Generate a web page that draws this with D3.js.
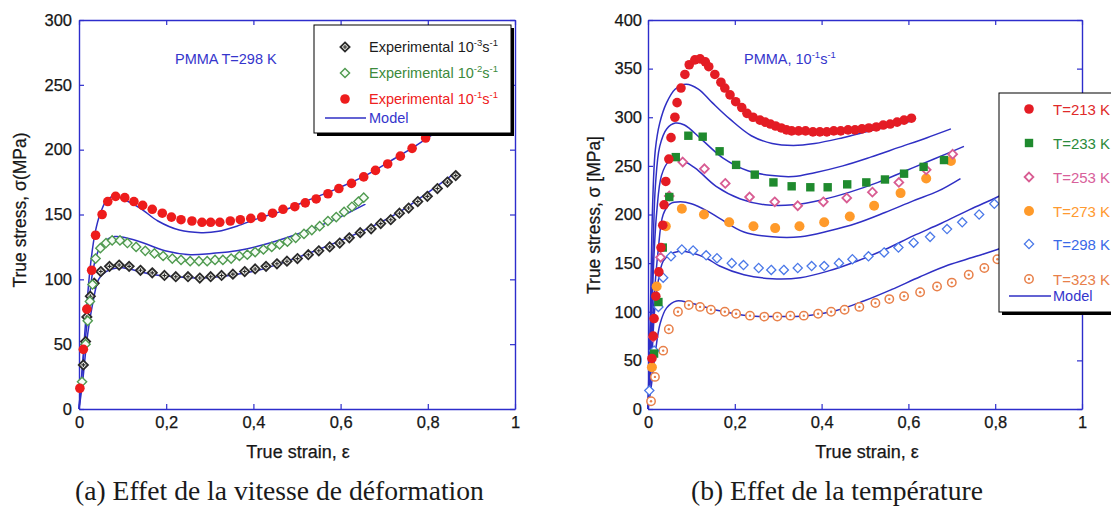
<!DOCTYPE html>
<html><head><meta charset="utf-8">
<script src="https://cdnjs.cloudflare.com/ajax/libs/d3/7.8.5/d3.min.js"></script>
<style>body{margin:0;background:#fff}svg{display:block}</style>
</head><body>
<svg id="c" width="1111" height="507"></svg>
<script>
// ---------- DATA ----------
const xTicks = [0, 0.2, 0.4, 0.6, 0.8, 1];
const yTicksA = [0, 50, 100, 150, 200, 250, 300];
const yTicksB = [0, 50, 100, 150, 200, 250, 300, 350, 400];

// (a) strain-rate effect, T = 298 K  [strain, stress MPa]
const expA_1e3 = [[0.01,34],[0.015,52],[0.018,71],[0.026,87],[0.035,97],[0.05,106],[0.07,110],[0.092,111],[0.115,110],[0.141,107],[0.168,105],[0.196,103],[0.222,102],[0.25,102],[0.277,101],[0.302,102],[0.327,103],[0.353,104],[0.38,106],[0.404,108],[0.429,110],[0.454,112],[0.477,114],[0.501,116],[0.526,119],[0.55,122],[0.575,125],[0.598,128],[0.62,132],[0.645,136],[0.67,139],[0.692,143],[0.715,146],[0.735,151],[0.756,155],[0.777,160],[0.799,164],[0.822,170],[0.845,175],[0.864,180]];
const expA_1e2 = [[0.007,21],[0.015,50],[0.02,68],[0.025,83],[0.031,96],[0.038,116],[0.049,124],[0.062,128],[0.076,130],[0.094,130],[0.111,128],[0.131,125],[0.152,122],[0.173,120],[0.193,118],[0.214,116],[0.234,115],[0.255,114],[0.275,114],[0.294,114],[0.312,115],[0.33,115],[0.349,116],[0.368,118],[0.386,119],[0.404,121],[0.423,123],[0.442,125],[0.46,127],[0.478,129],[0.497,132],[0.516,135],[0.534,138],[0.552,141],[0.571,145],[0.59,148],[0.608,152],[0.626,156],[0.641,160],[0.653,163]];
const expA_1e1 = [[0.002,16],[0.01,46],[0.018,77],[0.029,107],[0.038,134],[0.053,150],[0.066,160],[0.084,164],[0.105,163],[0.126,160],[0.146,157],[0.168,154],[0.191,151],[0.212,148],[0.234,146],[0.259,145],[0.282,144],[0.302,144],[0.323,144],[0.347,145],[0.37,146],[0.394,147],[0.419,148],[0.444,151],[0.468,154],[0.495,156],[0.519,159],[0.544,162],[0.571,166],[0.596,170],[0.625,174],[0.653,179],[0.68,184],[0.708,189],[0.737,195],[0.764,201],[0.795,209],[0.825,216],[0.855,224]];
const modA_1e3 = [[0,0],[0.008,20],[0.014,40],[0.02,58],[0.033,84],[0.045,100],[0.062,106],[0.09,109],[0.115,108],[0.164,104],[0.222,102],[0.28,101],[0.345,103],[0.411,107],[0.477,114],[0.542,122],[0.608,131],[0.674,141],[0.74,153],[0.805,168],[0.867,183]];
const modA_1e2 = [[0,0],[0.006,25],[0.012,46],[0.02,71],[0.031,105],[0.043,121],[0.058,129],[0.082,133],[0.107,132],[0.148,128],[0.197,122],[0.255,119],[0.304,120],[0.362,122],[0.427,127],[0.493,134],[0.542,140],[0.592,147],[0.657,158]];
const modA_1e1 = [[0,0],[0.008,33],[0.016,71],[0.026,110],[0.037,136],[0.049,151],[0.066,162],[0.086,164],[0.107,161],[0.14,155],[0.181,145],[0.23,138],[0.28,136],[0.32,137],[0.362,141],[0.411,147],[0.468,153],[0.526,161],[0.592,170],[0.657,180],[0.723,193],[0.772,203],[0.83,216],[0.87,226]];

// (b) temperature effect, 10^-1 s^-1
const expB_213 = [[0.009,52],[0.012,75],[0.014,93],[0.018,116],[0.025,141],[0.03,166],[0.034,189],[0.037,210],[0.041,234],[0.048,257],[0.053,279],[0.062,300],[0.067,315],[0.076,330],[0.085,344],[0.095,354],[0.108,359],[0.12,360],[0.132,357],[0.14,352],[0.154,344],[0.168,336],[0.177,330],[0.189,323],[0.202,316],[0.216,310],[0.228,304],[0.242,300],[0.258,297],[0.27,295],[0.282,293],[0.294,291],[0.307,289],[0.319,287],[0.331,286],[0.347,286],[0.363,286],[0.38,285],[0.396,285],[0.412,285],[0.428,286],[0.444,286],[0.461,287],[0.477,287],[0.493,288],[0.509,289],[0.526,290],[0.542,292],[0.558,293],[0.574,295],[0.59,297],[0.607,299]];
const expB_233 = [[0.014,57],[0.024,110],[0.034,166],[0.049,218],[0.064,259],[0.093,281],[0.126,280],[0.165,265],[0.203,251],[0.246,241],[0.289,233],[0.331,229],[0.374,228],[0.414,228],[0.459,231],[0.503,233],[0.546,236],[0.59,242],[0.635,249],[0.682,256]];
const expB_253 = [[0.012,74],[0.029,156],[0.049,219],[0.08,254],[0.13,247],[0.178,232],[0.234,218],[0.292,213],[0.345,209],[0.404,213],[0.458,217],[0.517,223],[0.578,233],[0.641,246],[0.702,262]];
const expB_273 = [[0.009,43],[0.02,126],[0.041,188],[0.078,206],[0.129,200],[0.187,192],[0.243,188],[0.293,186],[0.349,188],[0.406,192],[0.465,198],[0.521,209],[0.582,222],[0.641,237],[0.698,255]];
const expB_298 = [[0.003,19],[0.014,60],[0.024,105],[0.035,135],[0.053,157],[0.078,164],[0.104,163],[0.134,158],[0.159,155],[0.193,150],[0.22,148],[0.255,145],[0.284,143],[0.313,143],[0.345,145],[0.377,147],[0.406,147],[0.44,150],[0.471,154],[0.508,157],[0.544,161],[0.577,166],[0.612,171],[0.65,177],[0.689,185],[0.724,192],[0.763,200],[0.798,211],[0.84,220],[0.88,230]];
const expB_323 = [[0.007,8],[0.016,33],[0.035,60],[0.048,82],[0.069,100],[0.094,107],[0.12,105],[0.145,102],[0.177,100],[0.203,98],[0.235,96],[0.268,95],[0.298,95],[0.328,96],[0.359,96],[0.392,98],[0.422,100],[0.453,102],[0.487,105],[0.524,109],[0.556,113],[0.59,116],[0.627,120],[0.666,126],[0.7,130],[0.739,138],[0.775,145],[0.805,154],[0.84,162]];
const modB_213 = [[0,0],[0.005,90],[0.011,215],[0.017,267],[0.027,294],[0.043,315],[0.063,329],[0.088,334],[0.116,329],[0.148,315],[0.189,298],[0.238,281],[0.286,273],[0.335,271],[0.384,273],[0.449,279],[0.513,286],[0.57,292],[0.607,296]];
const modB_233 = [[0,0],[0.006,80],[0.012,170],[0.017,229],[0.027,270],[0.043,288],[0.063,294],[0.084,292],[0.124,277],[0.173,258],[0.23,245],[0.286,240],[0.335,239],[0.384,243],[0.449,250],[0.513,259],[0.578,269],[0.643,279],[0.698,288]];
const modB_253 = [[0,0],[0.007,70],[0.013,150],[0.02,202],[0.031,240],[0.047,254],[0.075,256],[0.108,248],[0.157,229],[0.213,216],[0.27,210],[0.335,210],[0.4,215],[0.465,223],[0.53,233],[0.594,245],[0.659,257],[0.728,270]];
const modB_273 = [[0,0],[0.008,60],[0.015,120],[0.023,161],[0.035,200],[0.051,211],[0.075,213],[0.1,211],[0.135,204],[0.165,196],[0.221,182],[0.286,177],[0.351,177],[0.416,183],[0.481,191],[0.546,202],[0.611,214],[0.668,224],[0.72,237]];
const modB_298 = [[0,0],[0.008,45],[0.015,100],[0.023,130],[0.035,152],[0.051,159],[0.07,162],[0.097,161],[0.135,155],[0.165,147],[0.221,138],[0.286,134],[0.351,135],[0.416,142],[0.481,152],[0.546,164],[0.611,178],[0.676,191],[0.741,205],[0.805,218],[0.85,228]];
const modB_323 = [[0,0],[0.008,25],[0.016,55],[0.028,88],[0.043,104],[0.066,111],[0.097,109],[0.165,101],[0.23,96],[0.302,95],[0.367,96],[0.432,101],[0.497,111],[0.562,123],[0.627,136],[0.692,148],[0.749,156],[0.805,164],[0.85,172]];

const labelsB = ["T=213 K","T=233 K","T=253 K","T=273 K","T=298 K","T=323 K"];

// ---------- DRAW ----------
const svg = d3.select("#c");
svg.append("rect").attr("width",1111).attr("height",507).attr("fill","#fff");
const AX = "#2d2dcc", MODEL = "#2f2fc4", TXT = "#161616";
const sans = "'Liberation Sans', Arial, sans-serif";

function fmt(d){ return (d===0||d===1) ? String(d) : d3.format(".1f")(d).replace(".", ","); }

function panel(p){
  const x = d3.scaleLinear().domain([0,1]).range([p.x0,p.x1]);
  const y = d3.scaleLinear().domain([0,p.ymax]).range([p.y0,p.y1]);
  const g = svg.append("g");
  const ax = (axis, tr) => {
    const a = g.append("g").attr("transform",tr).call(axis);
    a.select(".domain").attr("stroke",AX).attr("stroke-width",1.4);
    a.selectAll(".tick line").attr("stroke",AX).attr("stroke-width",1.2);
    a.selectAll("text").attr("fill",TXT).attr("font-family",sans).attr("font-size",16.5)
      .attr("stroke",TXT).attr("stroke-width",0.25);
    return a;
  };
  ax(d3.axisBottom(x).tickValues(xTicks).tickFormat(fmt).tickSizeInner(-5).tickSizeOuter(0).tickPadding(7), `translate(0,${p.y0})`);
  ax(d3.axisTop(x).tickValues(xTicks).tickFormat("").tickSizeInner(-5).tickSizeOuter(0), `translate(0,${p.y1})`);
  ax(d3.axisLeft(y).tickValues(p.yt).tickFormat(d3.format("d")).tickSizeInner(-5).tickSizeOuter(0).tickPadding(p.ypad), `translate(${p.x0},0)`);
  ax(d3.axisRight(y).tickValues(p.yt).tickFormat("").tickSizeInner(-5).tickSizeOuter(0), `translate(${p.x1},0)`);
  return {x,y,g};
}

const line = (x,y) => d3.line().x(d=>x(d[0])).y(d=>y(d[1])).curve(d3.curveCatmullRom.alpha(0.5));

function marker(g, type, cx, cy, st){
  if(type==="circle"){
    g.append("circle").attr("cx",cx).attr("cy",cy).attr("r",st.r||4.6).attr("fill",st.fill).attr("stroke",st.stroke||"none").attr("stroke-width",st.sw||0);
    if(st.dot) g.append("circle").attr("cx",cx).attr("cy",cy).attr("r",1.2).attr("fill",st.stroke);
  } else if(type==="diamond"){
    const s = st.s||4.6;
    g.append("path").attr("d",`M${cx},${cy-s}L${cx+s},${cy}L${cx},${cy+s}L${cx-s},${cy}Z`).attr("fill",st.fill).attr("stroke",st.stroke).attr("stroke-width",st.sw||1.5);
    if(st.plus) g.append("path").attr("d",`M${cx-2},${cy}H${cx+2}M${cx},${cy-2}V${cy+2}`).attr("stroke",st.stroke).attr("stroke-width",1.1);
  } else if(type==="square"){
    const s = st.s||4;
    g.append("rect").attr("x",cx-s).attr("y",cy-s).attr("width",2*s).attr("height",2*s).attr("fill",st.fill);
  }
}

// ----- Panel (a) -----
const A = panel({x0:79,x1:515,y0:409,y1:20,ymax:300,yt:yTicksA,ypad:7});
const sA = [
  {data:expA_1e3, type:"diamond", st:{fill:"#ececE4",stroke:"#2a2a2a",sw:1.8,plus:true,s:4.6}, color:"#1c1c1c", exp:"-3"},
  {data:expA_1e2, type:"diamond", st:{fill:"#f6fcf6",stroke:"#4f9a4f",sw:1.4,s:4.6}, color:"#3c8a3c", exp:"-2"},
  {data:expA_1e1, type:"circle", st:{fill:"#ee1c1c",r:4.8}, color:"#ee2020", exp:"-1"}
];
[modA_1e3,modA_1e2,modA_1e1].forEach(m=>{
  A.g.append("path").attr("d",line(A.x,A.y)(m)).attr("fill","none").attr("stroke",MODEL).attr("stroke-width",1.5);
});
sA.forEach(s=> s.data.forEach(d=> marker(A.g, s.type, A.x(d[0]), A.y(d[1]), s.st)));

// PMMA annotation
svg.append("text").attr("x",175).attr("y",64).attr("fill","#3535cc").attr("font-family",sans).attr("font-size",14.5).text("PMMA T=298 K");

// Legend (a)
const LA = svg.append("g");
LA.append("rect").attr("x",317).attr("y",28).attr("width",197).attr("height",108).attr("fill","#000");
LA.append("rect").attr("x",314).attr("y",25).attr("width",197).attr("height",108).attr("fill","#fff").attr("stroke","#000").attr("stroke-width",1);
const rowA = [47,73,99];
sA.forEach((s,i)=>{
  marker(LA, s.type, 345, rowA[i], s.st);
  const t = LA.append("text").attr("x",369).attr("y",rowA[i]+5).attr("fill",s.color).attr("font-family",sans).attr("font-size",14.5);
  t.append("tspan").text("Experimental 10");
  t.append("tspan").attr("font-size",9.5).attr("dy",-6).text(s.exp);
  t.append("tspan").attr("dy",6).text("s");
  t.append("tspan").attr("font-size",9.5).attr("dy",-6).text("-1");
});
LA.append("line").attr("x1",325).attr("x2",366).attr("y1",118).attr("y2",118).attr("stroke",MODEL).attr("stroke-width",1.5);
LA.append("text").attr("x",369).attr("y",123).attr("fill","#3535cc").attr("font-family",sans).attr("font-size",14.5).text("Model");

// ----- Panel (b) -----
const B = panel({x0:648,x1:1082,y0:409,y1:20,ymax:400,yt:yTicksB,ypad:6});
const sB = [
  {data:expB_213, type:"circle", st:{fill:"#e41c24",r:4.8}, color:"#e02a2a"},
  {data:expB_233, type:"square", st:{fill:"#1f8a2e",s:4.2}, color:"#2a8a3a"},
  {data:expB_253, type:"diamond", st:{fill:"#fff",stroke:"#d85c92",sw:1.8,s:4.4}, color:"#d8609a"},
  {data:expB_273, type:"circle", st:{fill:"#ff9a2a",r:5}, color:"#ff9a30"},
  {data:expB_298, type:"diamond", st:{fill:"#fff",stroke:"#4a78e8",sw:1.3,s:4.6}, color:"#3a6ae8"},
  {data:expB_323, type:"circle", st:{fill:"#fff",stroke:"#e8804a",sw:1.5,r:4.2,dot:true}, color:"#e8804a"}
];
[modB_213,modB_233,modB_253,modB_273,modB_298,modB_323].forEach(m=>{
  B.g.append("path").attr("d",line(B.x,B.y)(m)).attr("fill","none").attr("stroke",MODEL).attr("stroke-width",1.5);
});
sB.slice().reverse().forEach(s=> s.data.forEach(d=> marker(B.g, s.type, B.x(d[0]), B.y(d[1]), s.st)));

const tb = svg.append("text").attr("x",744).attr("y",64).attr("fill","#3535cc").attr("font-family",sans).attr("font-size",14.5);
tb.append("tspan").text("PMMA, 10");
tb.append("tspan").attr("font-size",9.5).attr("dy",-6).text("-1");
tb.append("tspan").attr("dy",6).text("s");
tb.append("tspan").attr("font-size",9.5).attr("dy",-6).text("-1");

// Legend (b)
const LB = svg.append("g");
LB.append("rect").attr("x",1002).attr("y",96).attr("width",130).attr("height",219).attr("fill","#000");
LB.append("rect").attr("x",999).attr("y",93).attr("width",130).attr("height",219).attr("fill","#fff").attr("stroke","#000").attr("stroke-width",1);
const rowB = [109,143,177,211,244,279];
sB.forEach((s,i)=>{
  marker(LB, s.type, 1029, rowB[i], s.st);
  LB.append("text").attr("x",1053).attr("y",rowB[i]+5.5).attr("fill",s.color).attr("font-family",sans).attr("font-size",15).text(labelsB[i]);
});
LB.append("line").attr("x1",1009).attr("x2",1051).attr("y1",296).attr("y2",296).attr("stroke",MODEL).attr("stroke-width",1.5);
LB.append("text").attr("x",1053).attr("y",301).attr("fill","#3535cc").attr("font-family",sans).attr("font-size",14.5).text("Model");

// ----- Axis titles -----
const titleStyle = t => t.attr("fill",TXT).attr("font-family",sans).attr("stroke",TXT).attr("stroke-width",0.25);
titleStyle(svg.append("text").attr("transform","translate(20,210) rotate(-90)").attr("text-anchor","middle").attr("dominant-baseline","central")
  .attr("font-size",17.5).text("True stress, σ(MPa)"));
titleStyle(svg.append("text").attr("transform","translate(594,215) rotate(-90)").attr("text-anchor","middle").attr("dominant-baseline","central")
  .attr("font-size",17.5).text("True stress, σ [MPa]"));
titleStyle(svg.append("text").attr("x",298).attr("y",458).attr("text-anchor","middle").attr("font-size",18).text("True strain, ε"));
titleStyle(svg.append("text").attr("x",867).attr("y",458).attr("text-anchor","middle").attr("font-size",18).text("True strain, ε"));

// ----- Captions -----
function caption(txt, x0, x1){
  const t = svg.append("text").attr("x",x0).attr("y",500).attr("fill","#1a1a1a")
    .attr("font-family","'Liberation Serif','Times New Roman',serif").attr("font-size",24).text(txt);
  const w = t.node().getComputedTextLength();
  t.attr("font-size", 24*(x1-x0)/w);
}
caption("(a) Effet de la vitesse de déformation", 75, 484);
caption("(b) Effet de la température", 691, 983);
</script>
</body></html>
